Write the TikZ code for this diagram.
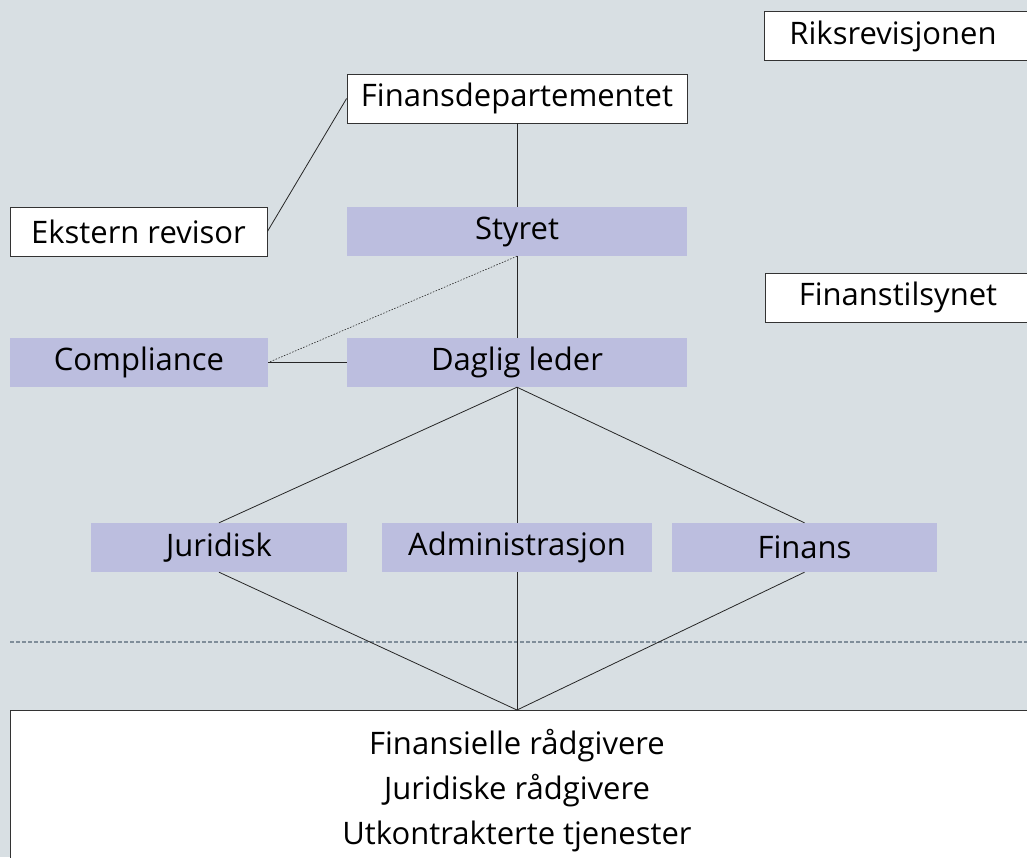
\documentclass[tikz,border=0pt]{standalone}
\usepackage{fontspec}
\setmainfont{Open Sans}
\begin{document}
\begin{tikzpicture}[x=1pt,y=-1pt,
  every node/.style={inner sep=0pt, font=\fontsize{31}{36}\selectfont},
  whitebox/.style={draw=black!80, line width=0.8pt, fill=white, minimum height=49pt},
  lavbox/.style={fill=lav, minimum height=49pt},
  link/.style={draw=black!85, line width=0.8pt}
]
\definecolor{bg}{RGB}{216,223,227}
\definecolor{lav}{RGB}{188,190,223}
\definecolor{dashc}{RGB}{128,142,154}
\useasboundingbox (0,0) rectangle (1027,857);
\begin{scope}
\clip (0,0) rectangle (1027,857);
\fill[bg] (0,0) rectangle (1027,857);
\node[whitebox, minimum width=270pt] (riks) at (899,36) {\hspace*{-6pt}Riksrevisjonen\hspace*{6pt}};
\node[whitebox, minimum width=340pt] (fd) at (517,98.5) {Finansdepartementet};
\node[whitebox, minimum width=257pt] (ek) at (138.5,231.5) {Ekstern revisor};
\node[lavbox, minimum width=340pt] (st) at (517,231.5) {Styret};
\node[whitebox, minimum width=270pt] (ft) at (900,297.5) {\hspace*{-2pt}Finanstilsynet\hspace*{2pt}};
\node[lavbox, minimum width=258pt] (co) at (139,362.5) {Compliance};
\node[lavbox, minimum width=340pt] (dl) at (517,362.5) {Daglig leder};
\node[lavbox, minimum width=256pt] (ju) at (219,547.5) {Juridisk};
\node[lavbox, minimum width=270pt] (ad) at (517,547.5) {Administrasjon};
\node[lavbox, minimum width=265pt] (fi) at (804.5,547.5) {Finans};
\node[whitebox, minimum width=1030pt, minimum height=160pt, anchor=north west] (bot) at (10,710) {};
\node[align=center, font=\fontsize{31}{45}\selectfont] (bottxt) at (517,791) {Finansielle rådgivere\\Juridiske rådgivere\\Utkontrakterte tjenester};
\draw[dashc, line width=2pt, dash pattern=on 4pt off 2pt] (10,642) -- (1027,642);
\draw[link] (fd.south) -- (st.north);
\draw[link] (ek.east) -- (fd.west);
\draw[link] (st.south) -- (dl.north);
\draw[link, dash pattern=on 1.5pt off 1.5pt, line width=0.6pt] (st.south) -- (co.east);
\draw[link] (co.east) -- (dl.west);
\draw[link] (dl.south) -- (ju.north);
\draw[link] (dl.south) -- (ad.north);
\draw[link] (dl.south) -- (fi.north);
\draw[link] (ju.south) -- (bot.north -| ad.south);
\draw[link] (ad.south) -- (bot.north -| ad.south);
\draw[link] (fi.south) -- (bot.north -| ad.south);
\end{scope}
\end{tikzpicture}
\end{document}
